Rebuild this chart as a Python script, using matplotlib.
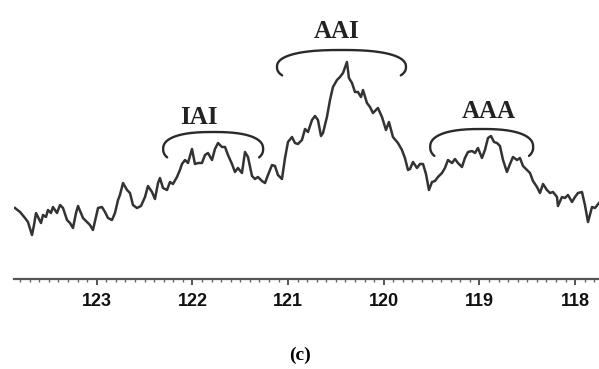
import numpy as np
import matplotlib
matplotlib.use("Agg")
import matplotlib.pyplot as plt
from matplotlib.ticker import MultipleLocator, FixedLocator

# 13C NMR trace, chemical shift (ppm) vs intensity (arbitrary units)
shift_ppm = [
    123.854, 123.801, 123.749, 123.718, 123.676, 123.655, 123.634, 123.613, 123.582, 123.561,
    123.530, 123.509, 123.478, 123.457, 123.415, 123.383, 123.352, 123.310, 123.279, 123.248,
    123.216, 123.195, 123.164, 123.143, 123.101, 123.070, 123.039, 123.007, 122.986, 122.945,
    122.913, 122.882, 122.840, 122.809, 122.777, 122.757, 122.725, 122.683, 122.652, 122.621,
    122.579, 122.537, 122.495, 122.464, 122.422, 122.391, 122.359, 122.339, 122.307, 122.265,
    122.234, 122.203, 122.161, 122.130, 122.109, 122.077, 122.046, 122.004, 121.973, 121.941,
    121.900, 121.868, 121.837, 121.795, 121.764, 121.732, 121.691, 121.659, 121.628, 121.586,
    121.555, 121.524, 121.482, 121.450, 121.419, 121.377, 121.346, 121.315, 121.273, 121.241,
    121.210, 121.168, 121.137, 121.106, 121.064, 121.032, 121.001, 120.959, 120.928, 120.897,
    120.855, 120.823, 120.792, 120.750, 120.719, 120.688, 120.656, 120.635, 120.594, 120.562,
    120.531, 120.489, 120.458, 120.426, 120.385, 120.364, 120.332, 120.301, 120.270, 120.238,
    120.217, 120.176, 120.144, 120.113, 120.061, 120.019, 119.977, 119.946, 119.904, 119.852,
    119.810, 119.779, 119.747, 119.726, 119.695, 119.653, 119.622, 119.590, 119.559, 119.528,
    119.496, 119.465, 119.434, 119.392, 119.361, 119.329, 119.287, 119.256, 119.225, 119.183,
    119.152, 119.120, 119.078, 119.047, 119.016, 118.974, 118.943, 118.911, 118.880, 118.848,
    118.817, 118.786, 118.754, 118.713, 118.681, 118.650, 118.608, 118.577, 118.545, 118.504,
    118.472, 118.441, 118.399, 118.368, 118.336, 118.295, 118.263, 118.232, 118.190, 118.180,
    118.138, 118.107, 118.075, 118.033, 118.002, 117.971, 117.929, 117.898, 117.866, 117.824,
    117.793, 117.751,
]
intensity = [
    71, 67, 61, 57, 44, 54, 66, 62, 56, 64,
    62, 69, 66, 72, 66, 74, 71, 59, 56, 51,
    66, 73, 66, 61, 57, 54, 49, 62, 71, 72,
    67, 61, 59, 66, 79, 84, 96, 89, 86, 74,
    71, 73, 82, 93, 87, 80, 96, 101, 91, 89,
    97, 95, 102, 109, 115, 119, 116, 130, 115, 116,
    116, 124, 126, 119, 130, 136, 132, 132, 124, 115,
    107, 111, 106, 127, 122, 103, 100, 102, 98, 96,
    104, 114, 113, 104, 100, 121, 137, 142, 136, 135,
    139, 150, 147, 159, 163, 159, 143, 146, 162, 179,
    192, 199, 202, 206, 217, 201, 196, 187, 187, 182,
    189, 176, 172, 166, 171, 162, 149, 157, 142, 136,
    129, 121, 109, 110, 117, 111, 115, 115, 105, 89,
    97, 98, 102, 106, 111, 119, 116, 120, 116, 112,
    121, 127, 128, 126, 131, 121, 129, 141, 143, 137,
    136, 133, 119, 107, 115, 122, 119, 121, 113, 109,
    106, 98, 92, 86, 95, 89, 86, 87, 82, 73,
    82, 81, 84, 77, 82, 86, 87, 74, 57, 72,
    71, 76,
]

major_ticks = [123, 122, 121, 120, 119, 118]
tick_labels = ["123", "122", "121", "120", "119", "118"]

# triad regions: name, label centre, bracket centre / half width (ppm)
region_names = ["IAI", "AAI", "AAA"]
region_label_ppm = [121.931, 120.489, 118.901]
region_label_int = [162, 248, 167]
bracket_center_ppm = [121.783, 120.442, 118.977]
bracket_half_ppm = [0.5225, 0.674, 0.538]
bracket_base_int = [130, 212, 132]
bracket_rise = [17, 17, 18]

caption = "(c)"


def bracket(ax, cx, half, base, rise):
    t = np.linspace(np.pi + 0.45, -0.45, 200)
    c = np.cos(t)
    s = np.sin(t)
    x = cx + half * np.sign(c) * np.abs(c) ** 0.8
    y = base + rise * np.sign(s) * np.abs(s) ** 0.85
    ax.plot(x, y, color="#2a2a2a", lw=1.7, solid_capstyle="round")


fig = plt.figure(figsize=(5.99, 3.69), dpi=100)
ax = fig.add_axes([14 / 599, 90 / 369, 585 / 599, 279 / 369])
ax.plot(shift_ppm, intensity, color="#333333", lw=1.8, solid_joinstyle="round")

ax.set_xlim(123.864, 117.751)
ax.set_ylim(0, 279)
for side in ("left", "right", "top"):
    ax.spines[side].set_visible(False)
ax.spines["bottom"].set_color("#555555")
ax.spines["bottom"].set_linewidth(1.6)
ax.set_yticks([])

ax.xaxis.set_major_locator(FixedLocator(major_ticks))
ax.set_xticklabels(tick_labels)
ax.xaxis.set_minor_locator(MultipleLocator(0.1))
ax.tick_params(axis="x", which="major", direction="out", length=4, width=1.4,
               color="#555555", pad=6, labelsize=13)
ax.tick_params(axis="x", which="minor", direction="out", length=2, width=1.0,
               color="#666666")
for lab in ax.get_xticklabels():
    lab.set_fontweight("bold")
    lab.set_fontfamily("Liberation Sans")
    lab.set_color("#111111")

for name, lx, ly, cx, hw, base, rise in zip(region_names, region_label_ppm, region_label_int,
                                            bracket_center_ppm, bracket_half_ppm,
                                            bracket_base_int, bracket_rise):
    ax.text(lx, ly, name, ha="center", va="center", fontsize=18, fontweight="bold",
            fontfamily="Liberation Serif", color="#222222")
    bracket(ax, cx, hw, base, rise)

fig.text(300 / 599, 1 - 355 / 369, caption, ha="center", va="center", fontsize=14,
         fontweight="bold", fontfamily="Liberation Serif")

fig.savefig("out.png", dpi=100, facecolor="white")
